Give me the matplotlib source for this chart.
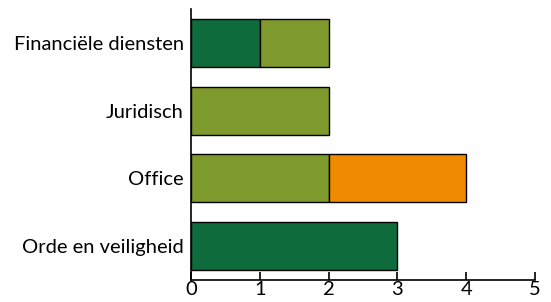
import matplotlib
matplotlib.use("Agg")
import matplotlib.pyplot as plt
import numpy as np

categories = ["Financiële diensten", "Juridisch", "Office", "Orde en veiligheid"]
donkergroen = [1, 0, 0, 3]
olijfgroen = [1, 2, 2, 0]
oranje = [0, 0, 2, 0]
xticks = [0, 1, 2, 3, 4, 5]

plt.rcParams['font.family'] = ['Lato', 'DejaVu Sans']

fig = plt.figure(figsize=(5.51, 3.02), dpi=100)
ax = fig.add_axes([191/551, 22/302, 344/551, 271/302])

y = np.arange(len(categories))[::-1]
left = np.zeros(len(categories))
for vals, col in [(donkergroen, "#0e6b3c"), (olijfgroen, "#7f9a2c"), (oranje, "#f08a00")]:
    vals = np.array(vals, dtype=float)
    mask = vals > 0
    ax.barh(y[mask], vals[mask], left=left[mask], height=0.71, color=col,
            edgecolor="black", linewidth=1)
    left += vals

ax.set_xlim(0, 5)
ax.set_ylim(-0.5, 3.5)
ax.set_xticks(xticks)
ax.set_xticklabels([str(t) for t in xticks], fontsize=14.5)
ax.set_yticks(y)
ax.set_yticklabels(categories, fontsize=14.5)
ax.tick_params(axis="x", direction="in", length=6, width=1.2, pad=1)
ax.tick_params(axis="y", length=0, pad=5)
for s in ["top", "right"]:
    ax.spines[s].set_visible(False)
ax.spines["left"].set_linewidth(1.2)
ax.spines["bottom"].set_linewidth(1.2)

fig.savefig("out.png", dpi=100)
